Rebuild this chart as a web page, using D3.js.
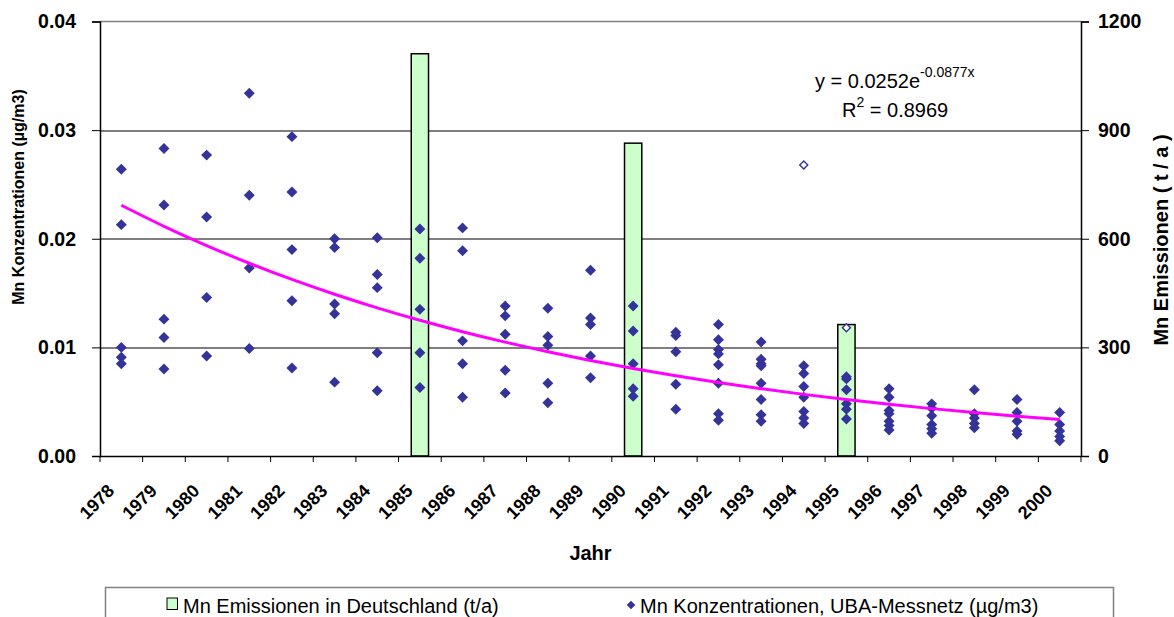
<!DOCTYPE html>
<html>
<head>
<meta charset="utf-8">
<script src="https://cdn.jsdelivr.net/npm/d3@7"></script>
<style>
  body { margin: 0; background: #fff; }
  text { font-family: Arial, "Liberation Sans", sans-serif; fill: #000; }
</style>
</head>
<body>
<div id="chart"></div>
<script>
// chart data
var years = ["1978", "1979", "1980", "1981", "1982", "1983", "1984", "1985", "1986", "1987", "1988",
  "1989", "1990", "1991", "1992", "1993", "1994", "1995", "1996", "1997", "1998", "1999", "2000"];

// Mn Emissionen in Deutschland (t/a), right axis
var emissionYears = ["1985", "1990", "1995"];
var emissionValues = [1111, 864, 363];

// Mn Konzentrationen, UBA-Messnetz (µg/m3), several stations per year
var concentrations = [
  [0.0264, 0.0213, 0.0100, 0.0091, 0.0085],
  [0.0283, 0.0231, 0.0126, 0.0109, 0.0080],
  [0.0277, 0.0220, 0.0146, 0.0092],
  [0.0334, 0.0240, 0.0173, 0.0099],
  [0.0294, 0.0243, 0.0190, 0.0143, 0.0081],
  [0.0200, 0.0192, 0.0140, 0.0131, 0.0068],
  [0.0201, 0.0167, 0.0155, 0.0095, 0.0060],
  [0.0209, 0.0182, 0.0135, 0.0095, 0.0063],
  [0.0210, 0.0189, 0.0106, 0.0085, 0.0054],
  [0.0138, 0.0129, 0.0112, 0.0079, 0.0058],
  [0.0136, 0.0110, 0.0102, 0.0067, 0.0049],
  [0.0171, 0.0127, 0.0121, 0.0092, 0.0072],
  [0.0138, 0.0115, 0.0085, 0.0062, 0.0055],
  [0.0114, 0.0111, 0.0096, 0.0066, 0.0043],
  [0.0121, 0.0107, 0.0098, 0.0094, 0.0084, 0.0067, 0.0039, 0.0033],
  [0.0105, 0.0089, 0.0085, 0.0083, 0.0067, 0.0052, 0.0038, 0.0032],
  [0.0083, 0.0076, 0.0064, 0.0054, 0.0041, 0.0035, 0.0030],
  [0.0073, 0.0071, 0.0061, 0.0048, 0.0043, 0.0034],
  [0.0062, 0.0054, 0.0042, 0.0039, 0.0032, 0.0028, 0.0024],
  [0.0048, 0.0044, 0.0037, 0.0029, 0.0025, 0.0021],
  [0.0061, 0.0039, 0.0035, 0.0030, 0.0026],
  [0.0052, 0.0040, 0.0032, 0.0023, 0.0020],
  [0.0040, 0.0029, 0.0023, 0.0018, 0.0014]
];

// points drawn as open diamonds
var openYears = ["1994", "1995"];
var openValues = [0.0268, 0.0118];

// exponential trend y = a * e^(b * x), x = 1..23
var trendA = 0.0252;
var trendB = -0.0877;

var leftTicks = [0, 0.01, 0.02, 0.03, 0.04];
var rightTicks = [0, 300, 600, 900, 1200];

// Step 1: set up the chart
var svgWidth = 1174;
var svgHeight = 617;
var margin = { top: 21.5, right: 93, bottom: 161, left: 100 };
var width = svgWidth - margin.left - margin.right;
var height = svgHeight - margin.top - margin.bottom;

var svg = d3.select("#chart")
  .append("svg")
  .attr("width", svgWidth)
  .attr("height", svgHeight);

var chartGroup = svg.append("g")
  .attr("transform", `translate(${margin.left}, ${margin.top})`);

// Step 2: scales
var xScale = d3.scaleBand().domain(years).range([0, width]).padding(0);
var bw = xScale.bandwidth();
var cx = d => xScale(d) + bw / 2;
var yLeft = d3.scaleLinear().domain([0, 0.04]).range([height, 0]);
var yRight = d3.scaleLinear().domain([0, 1200]).range([height, 0]);

// gridlines + top border
chartGroup.selectAll(".grid")
  .data([0.01, 0.02, 0.03])
  .enter()
  .append("line")
  .attr("x1", 0).attr("x2", width)
  .attr("y1", d => Math.round(yLeft(d)) + 0.5)
  .attr("y2", d => Math.round(yLeft(d)) + 0.5)
  .attr("stroke", "#000")
  .attr("stroke-width", 1.2);

chartGroup.append("line")
  .attr("x1", 0).attr("x2", width)
  .attr("y1", yLeft(0.04)).attr("y2", yLeft(0.04))
  .attr("stroke", "#808080")
  .attr("stroke-width", 1.5);

// Step 3: emission bars (right axis)
var barWidth = bw * 0.405;
chartGroup.selectAll(".bar")
  .data(emissionYears)
  .enter()
  .append("rect")
  .attr("x", d => cx(d) - barWidth / 2)
  .attr("y", (d, i) => yRight(emissionValues[i]))
  .attr("width", barWidth)
  .attr("height", (d, i) => height - yRight(emissionValues[i]))
  .attr("fill", "#CCFFCC")
  .attr("stroke", "#000")
  .attr("stroke-width", 1.5);

// Step 4: concentration points
var points = [];
years.forEach(function(yr, i) {
  concentrations[i].forEach(function(v) { points.push({ year: yr, value: v }); });
});

var diamond = d3.symbol().type(d3.symbolSquare).size(60);
chartGroup.selectAll(".pt")
  .data(points)
  .enter()
  .append("path")
  .attr("d", diamond)
  .attr("transform", d => `translate(${cx(d.year)}, ${yLeft(d.value)}) rotate(45)`)
  .attr("fill", "#333399");

var openDiamond = d3.symbol().type(d3.symbolSquare).size(32);
chartGroup.selectAll(".open")
  .data(openYears)
  .enter()
  .append("path")
  .attr("d", openDiamond)
  .attr("transform", (d, i) => `translate(${cx(d)}, ${yLeft(openValues[i])}) rotate(45)`)
  .attr("fill", "#fff")
  .attr("stroke", "#333399")
  .attr("stroke-width", 1.4);

// Step 5: trend line
var trendData = years.map((yr, i) => ({ year: yr, value: trendA * Math.exp(trendB * (i + 1)) }));
var line = d3.line()
  .x(d => cx(d.year))
  .y(d => yLeft(d.value))
  .curve(d3.curveMonotoneX);

chartGroup.append("path")
  .datum(trendData)
  .attr("d", line)
  .attr("fill", "none")
  .attr("stroke", "#FF00FF")
  .attr("stroke-width", 3);

// Step 6: axes
var leftAxis = d3.axisLeft(yLeft).tickValues(leftTicks).tickFormat(d3.format(".2f")).tickSize(8).tickPadding(16);
var rightAxis = d3.axisRight(yRight).tickValues(rightTicks).tickFormat(d3.format("d")).tickSize(8).tickPadding(9);
var bottomAxis = d3.axisBottom(xScale).tickSize(0).tickFormat("");

var gl = chartGroup.append("g").call(leftAxis);
var gr = chartGroup.append("g").attr("transform", `translate(${width}, 0)`).call(rightAxis);
var gb = chartGroup.append("g").attr("transform", `translate(0, ${height})`).call(bottomAxis);

[gl, gr, gb].forEach(function(g) {
  g.select(".domain").attr("stroke", "#000").attr("stroke-width", 1.5);
  g.selectAll(".tick line").attr("stroke", "#000");
  g.selectAll(".tick text")
    .style("font-family", "Arial, 'Liberation Sans', sans-serif")
    .style("font-size", "19.5px")
    .style("font-weight", "bold")
    .attr("fill", "#000");
});
gb.select(".domain").attr("d", `M0,0.5H${width}`);

// category boundary ticks
chartGroup.selectAll(".xtick")
  .data(years.concat(["end"]))
  .enter()
  .append("line")
  .attr("x1", (d, i) => i * bw).attr("x2", (d, i) => i * bw)
  .attr("y1", height).attr("y2", height + 6)
  .attr("stroke", "#000");

// rotated year labels
chartGroup.selectAll(".xlabel")
  .data(years)
  .enter()
  .append("text")
  .attr("transform", d => `translate(${cx(d) - 6}, ${height + 36}) rotate(-45)`)
  .attr("text-anchor", "end")
  .style("font-size", "18px")
  .style("font-weight", "bold")
  .text(d => d);

// axis titles
svg.append("text")
  .attr("transform", "translate(24, 197) rotate(-90)")
  .attr("text-anchor", "middle")
  .style("font-size", "16px")
  .style("font-weight", "bold")
  .text("Mn Konzentrationen (µg/m3)");

svg.append("text")
  .attr("transform", "translate(1168, 240) rotate(-90)")
  .attr("text-anchor", "middle")
  .style("font-size", "20px")
  .style("font-weight", "bold")
  .text("Mn Emissionen ( t / a )");

svg.append("text")
  .attr("x", margin.left + width / 2)
  .attr("y", 560)
  .attr("text-anchor", "middle")
  .style("font-size", "20px")
  .style("font-weight", "bold")
  .text("Jahr");

// trend equation
var eq = svg.append("text").attr("x", 815).attr("y", 88).style("font-size", "20px");
eq.append("tspan").text("y = " + trendA + "e");
eq.append("tspan").attr("dy", -11).style("font-size", "14px").text(trendB + "x");

var r2 = svg.append("text").attr("x", 842).attr("y", 117).style("font-size", "20px");
r2.append("tspan").text("R");
r2.append("tspan").attr("dy", -10).style("font-size", "14px").text("2");
r2.append("tspan").attr("dy", 10).text(" = 0.8969");

// legend
var legend = svg.append("g");
legend.append("rect")
  .attr("x", 105.5).attr("y", 587.5)
  .attr("width", 1008).attr("height", 60)
  .attr("fill", "#fff")
  .attr("stroke", "#808080")
  .attr("stroke-width", 1.5);

legend.append("rect")
  .attr("x", 167).attr("y", 598)
  .attr("width", 10.5).attr("height", 11.5)
  .attr("fill", "#CCFFCC")
  .attr("stroke", "#000")
  .attr("stroke-width", 1);

legend.append("text")
  .attr("x", 183).attr("y", 613)
  .style("font-size", "20px")
  .text("Mn Emissionen in Deutschland (t/a)");

legend.append("path")
  .attr("d", d3.symbol().type(d3.symbolSquare).size(36))
  .attr("transform", "translate(631, 605) rotate(45)")
  .attr("fill", "#333399");

legend.append("text")
  .attr("x", 640).attr("y", 613)
  .style("font-size", "20px")
  .text("Mn Konzentrationen, UBA-Messnetz (µg/m3)");
</script>
</body>
</html>
